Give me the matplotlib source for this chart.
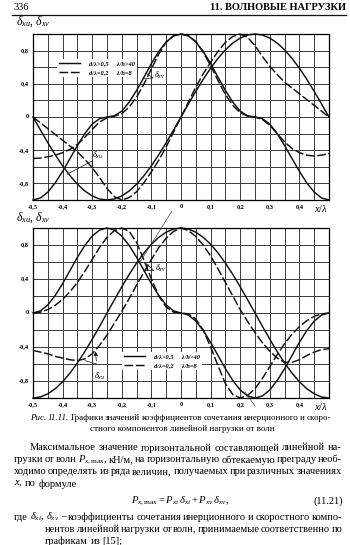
import numpy as np
import matplotlib
matplotlib.use('Agg')
import matplotlib.pyplot as plt
from matplotlib.lines import Line2D

plt.rcParams['font.family'] = ['Liberation Serif', 'DejaVu Serif']
plt.rcParams['mathtext.fontset'] = 'custom'
plt.rcParams['mathtext.rm'] = 'Liberation Serif'
plt.rcParams['mathtext.it'] = 'Liberation Serif:italic'
plt.rcParams['mathtext.bf'] = 'Liberation Serif:bold'

# sampling grid x/lambda, step 0.025
x = np.linspace(-0.5, 0.5, 41)

# upper chart
top_vel_solid = [-1.0, -0.976, -0.905, -0.794, -0.655, -0.5, -0.345, -0.2, -0.085, -0.02,
                 0.0, 0.015, 0.07, 0.18, 0.32, 0.48, 0.645, 0.79, 0.905, 0.976,
                 1.0, 0.976, 0.905, 0.79, 0.645, 0.48, 0.32, 0.18, 0.07, 0.015,
                 0.0, -0.02, -0.085, -0.2, -0.345, -0.5, -0.655, -0.794, -0.905, -0.976, -1.0]
top_vel_dash = [-0.5, -0.495, -0.48, -0.46, -0.43, -0.39, -0.33, -0.245, -0.15, -0.06,
                -0.01, 0.01, 0.04, 0.12, 0.24, 0.4, 0.58, 0.76, 0.9, 0.98,
                1.0, 0.98, 0.91, 0.78, 0.62, 0.44, 0.27, 0.14, 0.05, 0.01,
                0.0, -0.03, -0.1, -0.2, -0.3, -0.38, -0.43, -0.46, -0.47, -0.46, -0.44]
top_in_solid = [0.0, -0.156, -0.309, -0.454, -0.588, -0.707, -0.809, -0.891, -0.951, -0.988,
                -1.0, -0.988, -0.951, -0.891, -0.809, -0.707, -0.588, -0.454, -0.309, -0.156,
                0.0, 0.156, 0.309, 0.454, 0.588, 0.707, 0.809, 0.891, 0.951, 0.988,
                1.0, 0.988, 0.951, 0.891, 0.809, 0.707, 0.588, 0.454, 0.309, 0.156, 0.0]
top_in_dash = [0.0, -0.07, -0.14, -0.21, -0.28, -0.35, -0.42, -0.51, -0.61, -0.73,
               -0.86, -0.96, -1.0, -0.97, -0.9, -0.79, -0.66, -0.52, -0.36, -0.18,
               0.0, 0.18, 0.36, 0.52, 0.66, 0.79, 0.9, 0.97, 1.0, 0.96,
               0.86, 0.73, 0.61, 0.51, 0.42, 0.35, 0.28, 0.21, 0.14, 0.07, 0.0]

# lower chart
bot_vel_solid = [0.0, 0.024, 0.095, 0.206, 0.345, 0.5, 0.655, 0.794, 0.905, 0.976,
                 1.0, 0.976, 0.905, 0.794, 0.655, 0.5, 0.345, 0.206, 0.095, 0.024,
                 0.0, -0.024, -0.095, -0.206, -0.345, -0.5, -0.655, -0.794, -0.905, -0.976,
                 -1.0, -0.976, -0.905, -0.794, -0.655, -0.5, -0.345, -0.206, -0.095, -0.024, 0.0]
bot_vel_dash = [0.0, 0.01, 0.04, 0.09, 0.16, 0.25, 0.36, 0.49, 0.63, 0.77,
                0.89, 0.97, 1.0, 0.96, 0.83, 0.62, 0.4, 0.2, 0.07, 0.01,
                0.0, -0.01, -0.07, -0.2, -0.4, -0.62, -0.83, -0.96, -1.0, -0.97,
                -0.89, -0.77, -0.63, -0.49, -0.36, -0.25, -0.16, -0.09, -0.04, -0.01, 0.0]
bot_in_solid = [-1.0, -0.988, -0.951, -0.891, -0.809, -0.707, -0.588, -0.454, -0.309, -0.156,
                0.0, 0.156, 0.309, 0.454, 0.588, 0.707, 0.809, 0.891, 0.951, 0.988,
                1.0, 0.988, 0.951, 0.891, 0.809, 0.707, 0.588, 0.454, 0.309, 0.156,
                0.0, -0.156, -0.309, -0.454, -0.588, -0.707, -0.809, -0.891, -0.951, -0.988, -1.0]
bot_in_dash = [-0.44, -0.46, -0.48, -0.51, -0.53, -0.55, -0.56, -0.54, -0.48, -0.38,
               -0.26, -0.12, 0.02, 0.17, 0.33, 0.48, 0.63, 0.77, 0.88, 0.96,
               1.0, 0.97, 0.9, 0.8, 0.67, 0.52, 0.36, 0.2, 0.04, -0.1,
               -0.23, -0.35, -0.45, -0.53, -0.58, -0.58, -0.55, -0.5, -0.46, -0.43, -0.42]

xtick_vals = [-0.5, -0.4, -0.3, -0.2, -0.1, 0.0, 0.1, 0.2, 0.3, 0.4]
xtick_text = ['-0,5', '-0,4', '-0,3', '-0,2', '-0,1', '0', '0,1', '0,2', '0,3', '0,4']
ytick_vals = [0.8, 0.4, 0.0, -0.4, -0.8]
ytick_text = ['0,8', '0,4', '0', '-0,4', '-0,8']
legend_text = ['d/λ>0,5     λ/h>40', 'd/λ=0,2     λ/h=8']

W, H = 350, 545
fig = plt.figure(figsize=(W / 100, H / 100), dpi=100)
fig.patch.set_facecolor('white')


def fx(v):
    return v / W


def fy(v):
    return 1 - v / H


DASH = (0, (6, 1.8))


def chart(top, bottom, curves_solid, curves_dash):
    ax = fig.add_axes([fx(33), fy(bottom), (329 - 33) / W, (bottom - top) / H])
    ax.set_xlim(-0.5, 0.5)
    ax.set_ylim(-1, 1)
    ax.set_xticks(np.linspace(-0.5, 0.5, 21))
    ax.set_yticks(np.linspace(-1, 1, 11))
    ax.set_xticklabels([])
    ax.set_yticklabels([])
    ax.tick_params(length=0)
    ax.grid(True, color='#3a3a3a', lw=0.7)
    ax.set_axisbelow(True)
    for s in ax.spines.values():
        s.set_linewidth(0.9)
    for v, t in zip(xtick_vals, xtick_text):
        ax.text(v, -1.05, t, ha='center', va='top', fontsize=4.6, fontweight='bold')
    for v, t in zip(ytick_vals, ytick_text):
        ax.text(-0.515, v, t, ha='right', va='center', fontsize=4.6, fontweight='bold')
    ax.text(0.472, -1.04, r'$x/\lambda$', ha='center', va='top', fontsize=7.5)
    for c in curves_solid:
        ax.plot(x, c, color='#111111', lw=1.05, clip_on=False, solid_joinstyle='round')
    for c in curves_dash:
        ax.plot(x, c, color='#111111', lw=1.05, ls=DASH, clip_on=False)
    return ax


def legend(ax, anchor):
    h = [Line2D([], [], color='#111111', lw=1.05),
         Line2D([], [], color='#111111', lw=1.05, ls=DASH)]
    leg = ax.legend(h, legend_text, loc='upper left', bbox_to_anchor=anchor,
                    prop={'size': 4.6, 'style': 'italic', 'weight': 'bold'},
                    handlelength=3.4, handletextpad=1.4, labelspacing=0.6,
                    borderpad=0.25, frameon=True, fancybox=False)
    leg.get_frame().set_facecolor('white')
    leg.get_frame().set_edgecolor('none')
    leg.get_frame().set_alpha(1)


ax1 = chart(34, 200, [top_vel_solid, top_in_solid], [top_vel_dash, top_in_dash])
legend(ax1, (0.07, 0.87))
ax2 = chart(228, 398, [bot_vel_solid, bot_in_solid], [bot_vel_dash, bot_in_dash])
legend(ax2, (0.29, 0.29))

lab_v = r'$\delta_{xv}$'
lab_i = r'$\delta_{xи}$'
ap = dict(arrowstyle='-', lw=0.5, color='#111111', shrinkA=0, shrinkB=0)
# upper chart notes
ax1.text(-0.092, 0.5, lab_v, fontsize=6, va='center')
ax1.annotate('', xy=(-0.13, 0.46), xytext=(-0.095, 0.47), arrowprops=ap)
ax1.annotate('', xy=(-0.118, 0.53), xytext=(-0.095, 0.47), arrowprops=ap)
ax1.text(-0.3, -0.46, lab_i, fontsize=6, va='center')
ax1.annotate('', xy=(-0.385, -0.69), xytext=(-0.3, -0.53), arrowprops=ap)
ax1.annotate('', xy=(-0.3, -0.62), xytext=(-0.3, -0.53), arrowprops=ap)
# lower chart notes
ax2.text(-0.088, 0.53, lab_v, fontsize=6, va='center')
ax2.annotate('', xy=(-0.125, 0.5), xytext=(-0.092, 0.5), arrowprops=ap)
ax2.annotate('', xy=(-0.118, 0.58), xytext=(-0.092, 0.5), arrowprops=ap)
ax2.text(-0.295, -0.74, lab_i, fontsize=6, va='center')
ax2.annotate('', xy=(-0.29, -0.42), xytext=(-0.285, -0.6),
             arrowprops=dict(arrowstyle='-|>,head_length=0.25,head_width=0.12', lw=0.5, color='#111111'))
ax2.annotate('', xy=(-0.285, -0.6), xytext=(-0.325, -0.56), arrowprops=ap)

# stray pencil strokes on the scan
fig.add_artist(Line2D([fx(172), fx(140)], [fy(211), fy(262)], lw=0.45, color='#333333'))
fig.add_artist(Line2D([fx(245), fx(255)], [fy(392), fy(406)], lw=0.45, color='#333333'))

# y-axis names
fig.text(fx(16), fy(22), r'$\delta_{xи},\,\delta_{xv}$', fontsize=8.5, va='center')
fig.text(fx(16), fy(218), r'$\delta_{xи},\,\delta_{xv}$', fontsize=8.5, va='center')

# page header
fig.text(fx(13), fy(8), '336', fontsize=7.5, va='center')
fig.text(fx(346), fy(8), '11. ВОЛНОВЫЕ НАГРУЗКИ', fontsize=7.5, fontweight='bold',
         ha='right', va='center')
fig.add_artist(Line2D([fx(12), fx(346)], [fy(14.5), fy(14.5)], lw=0.9, color='#111111'))

renderer = fig.canvas.get_renderer()


def put_line(line, x0, x1, y, size, italic=(), justify=True):
    words = line.split(' ')
    objs = [fig.text(0, fy(y), w, fontsize=size, va='center',
                     style='italic' if w in italic else 'normal') for w in words]
    widths = [o.get_window_extent(renderer).width for o in objs]
    if justify and len(objs) > 1:
        gap = (x1 - x0 - sum(widths)) / (len(objs) - 1)
    else:
        gap = size * 0.33
    pos = x0
    for o, w in zip(objs, widths):
        o.set_x(fx(pos))
        pos += w + gap


# caption
put_line('Рис. 11.11. Графики значений коэффициентов сочетания инерционного и скоро-',
         30, 331, 418, 6.5, italic=('Рис.', '11.11.'))
fig.text(fx(182), fy(429), 'стного компонентов линейной нагрузки от волн',
         fontsize=6.5, ha='center', va='center')

# body text
BS = 7.5
put_line('Максимальное значение горизонтальной составляющей линейной на-', 30, 342, 448, BS)
put_line(r'грузки от волн $P_{x,\max}$, кН/м, на горизонтальную обтекаемую преграду необ-',
         14, 342, 460, BS)
put_line('ходимо определять из ряда величин, получаемых при различных значениях', 14, 342, 472, BS)
put_line(r'$x$, по формуле', 14, 342, 484, BS, justify=False)
fig.text(fx(180), fy(501), r'$P_{x,\max} = P_{xi}\,\delta_{xi} + P_{xv}\,\delta_{xv},$',
         fontsize=BS + 0.2, ha='center', va='center')
fig.text(fx(343), fy(501), '(11.21)', fontsize=BS, ha='right', va='center')
put_line(r'где $\delta_{xi}$, $\delta_{xv}$ – коэффициенты сочетания инерционного и скоростного компо-',
         14, 342, 517, BS)
put_line('нентов линейной нагрузки от волн, принимаемые соответственно по', 45, 342, 529, BS)
put_line('графикам из [15];', 45, 342, 541, BS, justify=False)

fig.savefig('out.png', dpi=100, facecolor='white')
